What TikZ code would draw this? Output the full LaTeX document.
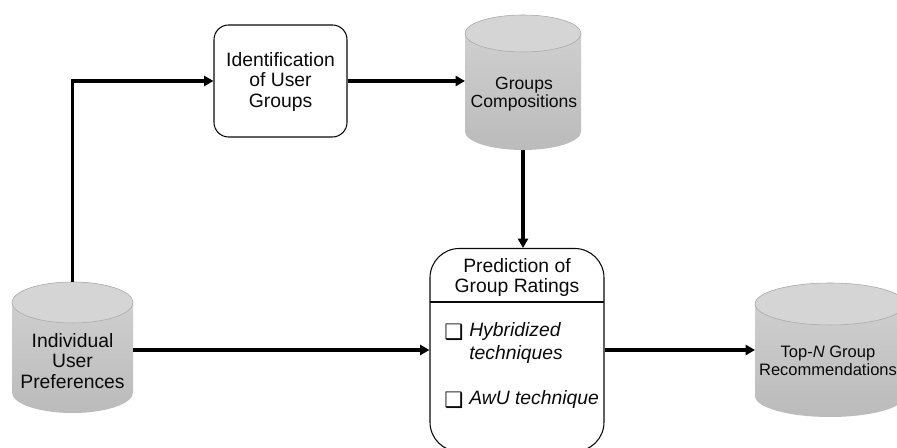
\documentclass[tikz,border=0pt]{standalone}
\usepackage{fontspec}
\setmainfont{Liberation Sans}
\newfontfamily\symfont{DejaVu Sans}
\usetikzlibrary{arrows.meta}
\definecolor{cylTop}{HTML}{D2D2D2}
\definecolor{cylBot}{HTML}{BBBBBB}
\definecolor{cylCap}{HTML}{D5D5D5}
\definecolor{cylEdge}{HTML}{A8A8A8}
\definecolor{ink}{HTML}{0A0A0A}
\newcommand\drawcyl[5]{%
  \pgfmathsetmacro\cylcx{(#1+#2)/2}\pgfmathsetmacro\cylrx{(#2-#1)/2}%
  \shade[top color=cylTop, bottom color=cylBot] (#1,#3) -- (#1,#4)
    arc[start angle=180,end angle=360,x radius=\cylrx,y radius=#5] -- (#2,#3)
    arc[start angle=0,end angle=180,x radius=\cylrx,y radius=#5] -- cycle;
  \filldraw[fill=cylCap, draw=cylEdge, line width=0.4pt] (\cylcx,#3) ellipse[x radius=\cylrx, y radius=#5];
}
\begin{document}
\begin{tikzpicture}[x=0.75pt,y=0.75pt,
  shapebox/.style={inner sep=0pt, outer sep=0pt},
  roundbox/.style={draw=ink, line width=0.8pt, fill=white, inner sep=0pt},
  txt/.style={align=center, text=ink, inner sep=0pt, font=\fontsize{14.5}{15.6}\selectfont},
  cyltxt/.style={align=center, text=ink, inner sep=0pt},
  itemtxt/.style={anchor=west, text=ink, inner sep=0pt, font=\fontsize{14.5}{15.6}\selectfont\itshape},
  chk/.style={text=ink, inner sep=0pt, font=\symfont\fontsize{16}{16}\selectfont},
  conn/.style={line width=2.4pt, -{Triangle[length=7pt,width=7.5pt]}}
]
\useasboundingbox (0,0) rectangle (897,448);
\clip (0,0) rectangle (897,448);
\fill[white] (0,0) rectangle (897,448);

% cylinders
\drawcyl{12}{133}{145.5}{55.5}{20.5}
\drawcyl{465}{581}{414.5}{316.5}{18.5}
\drawcyl{755}{905}{144}{52}{21}

\node[shapebox, minimum width=90.75pt, minimum height=98.25pt] (iup) at (72.5,100.5) {};
\node[shapebox, minimum width=87pt, minimum height=101.25pt] (grp) at (523,365.5) {};
\node[shapebox, minimum width=112.5pt, minimum height=100.5pt] (topn) at (830,98) {};

\node[cyltxt, font=\fontsize{14.5}{15.3}\selectfont] (iuptext) at (72.5,87) {Individual\\User\\Preferences};
\node[cyltxt, font=\fontsize{13.2}{13.8}\selectfont] (grptext) at (524,354) {Groups\\Compositions};
\node[cyltxt, font=\fontsize{12.4}{13.5}\selectfont] (topntext) at (828,87) {Top-\textit{N} Group\\Recommendations};

% boxes
\node[roundbox, rounded corners=11pt, minimum width=99.75pt, minimum height=84pt] (ident) at (280.5,367) {};
\node[txt] (identtext) at (280.5,366) {Identification\\of User\\Groups};

\node[roundbox, rounded corners=22pt, minimum width=130.5pt, minimum height=152.25pt] (pred) at (517,98) {};
\node[txt] (predtext) at (517,170.5) {Prediction of\\Group Ratings};
\draw[ink, line width=0.8pt] (430,146) -- (604,146);

\node[chk] (c1) at (454,116) {❑};
\node[itemtxt] (i1) at (469,116) {Hybridized};
\node[itemtxt] (i1b) at (469,93) {techniques};
\node[chk] (c2) at (454,48) {❑};
\node[itemtxt] (i2) at (469,48) {AwU technique};

% connectors
\draw[conn] (iup.north) |- (ident.west);
\draw[conn] (ident.east) -- (ident.east -| grp.west);
\draw[conn] (grp.south) -- (grp.south |- pred.north);
\draw[conn] (pred.west -| iup.east) -- (pred.west);
\draw[conn] (pred.east) -- (pred.east -| topn.west);
\end{tikzpicture}
\end{document}
